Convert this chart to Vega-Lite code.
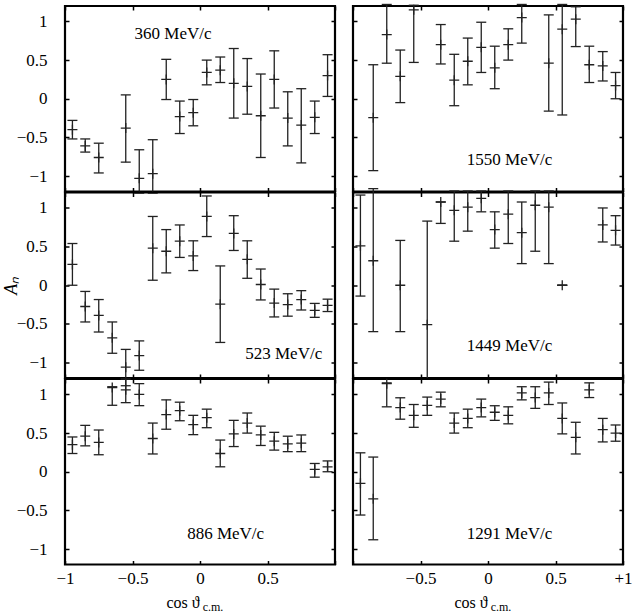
{
  "$schema": "https://vega.github.io/schema/vega-lite/v6.json",
  "padding": {"left": 0, "top": 0, "right": 0, "bottom": 0},
  "background": "white",
  "datasets": {
    "pts": [
      {"p": "360", "x": -0.945, "y": -0.40, "lo": -0.52, "hi": -0.28},
      {"p": "360", "x": -0.85, "y": -0.61, "lo": -0.69, "hi": -0.52},
      {"p": "360", "x": -0.75, "y": -0.76, "lo": -0.96, "hi": -0.575},
      {"p": "360", "x": -0.55, "y": -0.38, "lo": -0.82, "hi": 0.05},
      {"p": "360", "x": -0.45, "y": -1.03, "lo": -1.22, "hi": -0.66},
      {"p": "360", "x": -0.35, "y": -0.97, "lo": -1.22, "hi": -0.53},
      {"p": "360", "x": -0.25, "y": 0.25, "lo": -0.01, "hi": 0.51},
      {"p": "360", "x": -0.15, "y": -0.23, "lo": -0.45, "hi": -0.03},
      {"p": "360", "x": -0.05, "y": -0.18, "lo": -0.35, "hi": -0.01},
      {"p": "360", "x": 0.05, "y": 0.34, "lo": 0.18, "hi": 0.50},
      {"p": "360", "x": 0.15, "y": 0.37, "lo": 0.21, "hi": 0.54},
      {"p": "360", "x": 0.25, "y": 0.20, "lo": -0.25, "hi": 0.65},
      {"p": "360", "x": 0.35, "y": 0.16, "lo": -0.20, "hi": 0.52},
      {"p": "360", "x": 0.45, "y": -0.22, "lo": -0.76, "hi": 0.32},
      {"p": "360", "x": 0.55, "y": 0.25, "lo": -0.12, "hi": 0.62},
      {"p": "360", "x": 0.65, "y": -0.25, "lo": -0.61, "hi": 0.09},
      {"p": "360", "x": 0.75, "y": -0.34, "lo": -0.83, "hi": 0.13},
      {"p": "360", "x": 0.85, "y": -0.24, "lo": -0.45, "hi": -0.03},
      {"p": "360", "x": 0.945, "y": 0.30, "lo": 0.03, "hi": 0.57},

      {"p": "1550", "x": -0.85, "y": -0.245, "lo": -0.93, "hi": 0.44},
      {"p": "1550", "x": -0.75, "y": 0.83, "lo": 0.46, "hi": 1.22},
      {"p": "1550", "x": -0.65, "y": 0.29, "lo": -0.05, "hi": 0.63},
      {"p": "1550", "x": -0.55, "y": 1.15, "lo": 0.47, "hi": 1.21},
      {"p": "1550", "x": -0.35, "y": 0.70, "lo": 0.45, "hi": 0.96},
      {"p": "1550", "x": -0.25, "y": 0.24, "lo": -0.09, "hi": 0.575},
      {"p": "1550", "x": -0.15, "y": 0.485, "lo": 0.18, "hi": 0.785},
      {"p": "1550", "x": -0.05, "y": 0.665, "lo": 0.34, "hi": 0.99},
      {"p": "1550", "x": 0.05, "y": 0.40, "lo": 0.13, "hi": 0.68},
      {"p": "1550", "x": 0.15, "y": 0.70, "lo": 0.50, "hi": 0.905},
      {"p": "1550", "x": 0.25, "y": 1.05, "lo": 0.72, "hi": 1.22},
      {"p": "1550", "x": 0.45, "y": 0.46, "lo": -0.16, "hi": 1.085},
      {"p": "1550", "x": 0.55, "y": 0.90, "lo": -0.21, "hi": 1.22},
      {"p": "1550", "x": 0.65, "y": 1.03, "lo": 0.675, "hi": 1.19},
      {"p": "1550", "x": 0.75, "y": 0.44, "lo": 0.21, "hi": 0.68},
      {"p": "1550", "x": 0.85, "y": 0.425, "lo": 0.23, "hi": 0.61},
      {"p": "1550", "x": 0.945, "y": 0.17, "lo": 0.0, "hi": 0.34},

      {"p": "523", "x": -0.945, "y": 0.27, "lo": 0.0, "hi": 0.54},
      {"p": "523", "x": -0.85, "y": -0.275, "lo": -0.475, "hi": -0.08},
      {"p": "523", "x": -0.75, "y": -0.39, "lo": -0.605, "hi": -0.185},
      {"p": "523", "x": -0.65, "y": -0.68, "lo": -0.88, "hi": -0.475},
      {"p": "523", "x": -0.55, "y": -1.06, "lo": -1.30, "hi": -0.83},
      {"p": "523", "x": -0.45, "y": -0.91, "lo": -1.10, "hi": -0.72},
      {"p": "523", "x": -0.35, "y": 0.48, "lo": 0.065, "hi": 0.89},
      {"p": "523", "x": -0.25, "y": 0.44, "lo": 0.16, "hi": 0.72},
      {"p": "523", "x": -0.15, "y": 0.57, "lo": 0.36, "hi": 0.78},
      {"p": "523", "x": -0.05, "y": 0.38, "lo": 0.19, "hi": 0.575},
      {"p": "523", "x": 0.05, "y": 0.89, "lo": 0.63, "hi": 1.155},
      {"p": "523", "x": 0.15, "y": -0.245, "lo": -0.74, "hi": 0.25},
      {"p": "523", "x": 0.25, "y": 0.67, "lo": 0.45, "hi": 0.90},
      {"p": "523", "x": 0.35, "y": 0.335, "lo": 0.09, "hi": 0.575},
      {"p": "523", "x": 0.45, "y": 0.01, "lo": -0.19, "hi": 0.21},
      {"p": "523", "x": 0.55, "y": -0.23, "lo": -0.41, "hi": -0.05},
      {"p": "523", "x": 0.65, "y": -0.25, "lo": -0.40, "hi": -0.11},
      {"p": "523", "x": 0.75, "y": -0.185, "lo": -0.32, "hi": -0.07},
      {"p": "523", "x": 0.85, "y": -0.325, "lo": -0.415, "hi": -0.235},
      {"p": "523", "x": 0.945, "y": -0.26, "lo": -0.34, "hi": -0.18},

      {"p": "1449", "x": -0.945, "y": 0.51, "lo": -0.14, "hi": 1.167},
      {"p": "1449", "x": -0.85, "y": 0.317, "lo": -0.60, "hi": 1.25},
      {"p": "1449", "x": -0.65, "y": 0.0, "lo": -0.60, "hi": 0.58},
      {"p": "1449", "x": -0.45, "y": -0.51, "lo": -1.21, "hi": 0.83},
      {"p": "1449", "x": -0.35, "y": 1.077, "lo": 0.80, "hi": 1.077},
      {"p": "1449", "x": -0.25, "y": 0.97, "lo": 0.57, "hi": 1.22},
      {"p": "1449", "x": -0.15, "y": 1.01, "lo": 0.70, "hi": 1.22},
      {"p": "1449", "x": -0.05, "y": 1.125, "lo": 0.95, "hi": 1.22},
      {"p": "1449", "x": 0.05, "y": 0.72, "lo": 0.48, "hi": 0.95},
      {"p": "1449", "x": 0.15, "y": 0.92, "lo": 0.54, "hi": 1.22},
      {"p": "1449", "x": 0.25, "y": 0.68, "lo": 0.28, "hi": 1.077},
      {"p": "1449", "x": 0.35, "y": 1.035, "lo": 0.44, "hi": 1.22},
      {"p": "1449", "x": 0.45, "y": 1.01, "lo": 0.28, "hi": 1.22},
      {"p": "1449", "x": 0.55, "y": 0.0, "lo": 0.0, "hi": 0.0},
      {"p": "1449", "x": 0.85, "y": 0.78, "lo": 0.56, "hi": 1.0},
      {"p": "1449", "x": 0.945, "y": 0.71, "lo": 0.52, "hi": 0.90},

      {"p": "886", "x": -0.945, "y": 0.35, "lo": 0.236, "hi": 0.45},
      {"p": "886", "x": -0.85, "y": 0.46, "lo": 0.335, "hi": 0.60},
      {"p": "886", "x": -0.75, "y": 0.38, "lo": 0.22, "hi": 0.54},
      {"p": "886", "x": -0.65, "y": 1.09, "lo": 0.86, "hi": 1.10},
      {"p": "886", "x": -0.55, "y": 1.06, "lo": 0.894, "hi": 1.2},
      {"p": "886", "x": -0.45, "y": 1.0, "lo": 0.855, "hi": 1.14},
      {"p": "886", "x": -0.35, "y": 0.43, "lo": 0.23, "hi": 0.63},
      {"p": "886", "x": -0.25, "y": 0.74, "lo": 0.55, "hi": 0.93},
      {"p": "886", "x": -0.15, "y": 0.79, "lo": 0.66, "hi": 0.90},
      {"p": "886", "x": -0.05, "y": 0.61, "lo": 0.48, "hi": 0.73},
      {"p": "886", "x": 0.05, "y": 0.70, "lo": 0.57, "hi": 0.81},
      {"p": "886", "x": 0.15, "y": 0.236, "lo": 0.064, "hi": 0.41},
      {"p": "886", "x": 0.25, "y": 0.49, "lo": 0.326, "hi": 0.665},
      {"p": "886", "x": 0.35, "y": 0.63, "lo": 0.50, "hi": 0.76},
      {"p": "886", "x": 0.45, "y": 0.476, "lo": 0.34, "hi": 0.59},
      {"p": "886", "x": 0.55, "y": 0.395, "lo": 0.28, "hi": 0.51},
      {"p": "886", "x": 0.65, "y": 0.36, "lo": 0.26, "hi": 0.46},
      {"p": "886", "x": 0.75, "y": 0.37, "lo": 0.26, "hi": 0.476},
      {"p": "886", "x": 0.85, "y": 0.03, "lo": -0.07, "hi": 0.107},
      {"p": "886", "x": 0.945, "y": 0.064, "lo": 0.0, "hi": 0.14},

      {"p": "1291", "x": -0.945, "y": -0.15, "lo": -0.56, "hi": 0.245},
      {"p": "1291", "x": -0.85, "y": -0.35, "lo": -0.88, "hi": 0.19},
      {"p": "1291", "x": -0.75, "y": 1.14, "lo": 0.84, "hi": 1.15},
      {"p": "1291", "x": -0.65, "y": 0.83, "lo": 0.68, "hi": 0.957},
      {"p": "1291", "x": -0.55, "y": 0.73, "lo": 0.575, "hi": 0.87},
      {"p": "1291", "x": -0.45, "y": 0.86, "lo": 0.73, "hi": 0.966},
      {"p": "1291", "x": -0.35, "y": 0.94, "lo": 0.84, "hi": 1.03},
      {"p": "1291", "x": -0.25, "y": 0.63, "lo": 0.50, "hi": 0.76},
      {"p": "1291", "x": -0.15, "y": 0.69, "lo": 0.57, "hi": 0.81},
      {"p": "1291", "x": -0.05, "y": 0.83, "lo": 0.71, "hi": 0.94},
      {"p": "1291", "x": 0.05, "y": 0.77, "lo": 0.665, "hi": 0.854},
      {"p": "1291", "x": 0.15, "y": 0.73, "lo": 0.62, "hi": 0.84},
      {"p": "1291", "x": 0.25, "y": 1.02, "lo": 0.93, "hi": 1.10},
      {"p": "1291", "x": 0.35, "y": 0.96, "lo": 0.82, "hi": 1.10},
      {"p": "1291", "x": 0.45, "y": 1.02, "lo": 0.87, "hi": 1.16},
      {"p": "1291", "x": 0.55, "y": 0.69, "lo": 0.49, "hi": 0.89},
      {"p": "1291", "x": 0.65, "y": 0.446, "lo": 0.23, "hi": 0.64},
      {"p": "1291", "x": 0.75, "y": 1.06, "lo": 0.96, "hi": 1.15},
      {"p": "1291", "x": 0.85, "y": 0.545, "lo": 0.386, "hi": 0.69},
      {"p": "1291", "x": 0.945, "y": 0.50, "lo": 0.395, "hi": 0.605}
    ],
    "labels": [
      {"p": "360", "t": "360 MeV/c"},
      {"p": "1550", "t": "1550 MeV/c"},
      {"p": "523", "t": "523 MeV/c"},
      {"p": "1449", "t": "1449 MeV/c"},
      {"p": "886", "t": "886 MeV/c"},
      {"p": "1291", "t": "1291 MeV/c"}
    ]
  },
  "columns": 2,
  "spacing": {"row": 0.5, "column": 18},
  "bounds": "flush",
  "concat": [
    {
      "width": 270, "height": 185.5,
      "data": {"name": "pts"},
      "transform": [{"filter": "datum.p == '360'"}],
      "resolve": {"axis": {"x": "independent", "y": "independent"}},
      "layer": [
        {"mark": {"type": "rule", "color": "#222", "strokeWidth": 1.3},
         "encoding": {
           "x": {"field": "x", "type": "quantitative", "scale": {"domain": [-1, 1], "nice": false, "zero": false}, "axis": {"orient": "bottom", "values": [-1, -0.5, 0, 0.5, 1], "labels": false, "title": null}},
           "y": {"field": "lo", "type": "quantitative", "scale": {"domain": [-1.2, 1.2], "nice": false, "zero": false}, "axis": {"orient": "left", "values": [-1, -0.5, 0, 0.5, 1], "format": "~g", "title": null}},
           "y2": {"field": "hi"}}},
        {"transform": [{"fold": ["lo", "hi"], "as": ["k", "v"]}],
         "mark": {"type": "point", "shape": "M-1,0H1", "size": 100, "filled": false, "stroke": "#222", "strokeWidth": 1.3, "opacity": 1},
         "encoding": {
           "x": {"field": "x", "type": "quantitative", "axis": {"orient": "top", "values": [-1, -0.5, 0, 0.5, 1], "labels": false, "title": null}},
           "y": {"field": "v", "type": "quantitative", "axis": {"orient": "right", "values": [-1, -0.5, 0, 0.5, 1], "labels": false, "title": null}}}},
        {"mark": {"type": "point", "shape": "M-1,0H1M0,-1V1", "size": 100, "filled": false, "stroke": "#222", "strokeWidth": 1.3, "opacity": 1},
         "encoding": {"x": {"field": "x", "type": "quantitative", "axis": null}, "y": {"field": "y", "type": "quantitative", "axis": null}}},
        {"data": {"name": "labels"}, "transform": [{"filter": "datum.p == '360'"}],
         "mark": {"type": "text", "fontSize": 17, "color": "black"},
         "encoding": {"x": {"datum": -0.2, "axis": null}, "y": {"datum": 0.84, "axis": null}, "text": {"field": "t"}}}
      ]
    },
    {
      "width": 270, "height": 185.5,
      "data": {"name": "pts"},
      "transform": [{"filter": "datum.p == '1550'"}],
      "resolve": {"axis": {"x": "independent", "y": "independent"}},
      "layer": [
        {"mark": {"type": "rule", "color": "#222", "strokeWidth": 1.3},
         "encoding": {
           "x": {"field": "x", "type": "quantitative", "scale": {"domain": [-1, 1], "nice": false, "zero": false}, "axis": {"orient": "bottom", "values": [-1, -0.5, 0, 0.5, 1], "labels": false, "title": null}},
           "y": {"field": "lo", "type": "quantitative", "scale": {"domain": [-1.2, 1.2], "nice": false, "zero": false}, "axis": {"orient": "left", "values": [-1, -0.5, 0, 0.5, 1], "labels": false, "title": null}},
           "y2": {"field": "hi"}}},
        {"transform": [{"fold": ["lo", "hi"], "as": ["k", "v"]}],
         "mark": {"type": "point", "shape": "M-1,0H1", "size": 100, "filled": false, "stroke": "#222", "strokeWidth": 1.3, "opacity": 1},
         "encoding": {
           "x": {"field": "x", "type": "quantitative", "axis": {"orient": "top", "values": [-1, -0.5, 0, 0.5, 1], "labels": false, "title": null}},
           "y": {"field": "v", "type": "quantitative", "axis": {"orient": "right", "values": [-1, -0.5, 0, 0.5, 1], "labels": false, "title": null}}}},
        {"mark": {"type": "point", "shape": "M-1,0H1M0,-1V1", "size": 100, "filled": false, "stroke": "#222", "strokeWidth": 1.3, "opacity": 1},
         "encoding": {"x": {"field": "x", "type": "quantitative", "axis": null}, "y": {"field": "y", "type": "quantitative", "axis": null}}},
        {"data": {"name": "labels"}, "transform": [{"filter": "datum.p == '1550'"}],
         "mark": {"type": "text", "fontSize": 17, "color": "black"},
         "encoding": {"x": {"datum": 0.16, "axis": null}, "y": {"datum": -0.795, "axis": null}, "text": {"field": "t"}}}
      ]
    },
    {
      "width": 270, "height": 185.5,
      "data": {"name": "pts"},
      "transform": [{"filter": "datum.p == '523'"}],
      "resolve": {"axis": {"x": "independent", "y": "independent"}},
      "layer": [
        {"mark": {"type": "rule", "color": "#222", "strokeWidth": 1.3},
         "encoding": {
           "x": {"field": "x", "type": "quantitative", "scale": {"domain": [-1, 1], "nice": false, "zero": false}, "axis": {"orient": "bottom", "values": [-1, -0.5, 0, 0.5, 1], "labels": false, "title": null}},
           "y": {"field": "lo", "type": "quantitative", "scale": {"domain": [-1.2, 1.2], "nice": false, "zero": false}, "axis": {"orient": "left", "values": [-1, -0.5, 0, 0.5, 1], "format": "~g", "title": "Aₙ", "titleFontStyle": "italic", "titleFontSize": 18, "titleX": -54, "titleY": 92.75, "titleBaseline": "middle", "titleAlign": "center", "titleAngle": -90}},
           "y2": {"field": "hi"}}},
        {"transform": [{"fold": ["lo", "hi"], "as": ["k", "v"]}],
         "mark": {"type": "point", "shape": "M-1,0H1", "size": 100, "filled": false, "stroke": "#222", "strokeWidth": 1.3, "opacity": 1},
         "encoding": {
           "x": {"field": "x", "type": "quantitative", "axis": {"orient": "top", "values": [-1, -0.5, 0, 0.5, 1], "labels": false, "title": null}},
           "y": {"field": "v", "type": "quantitative", "axis": {"orient": "right", "values": [-1, -0.5, 0, 0.5, 1], "labels": false, "title": null}}}},
        {"mark": {"type": "point", "shape": "M-1,0H1M0,-1V1", "size": 100, "filled": false, "stroke": "#222", "strokeWidth": 1.3, "opacity": 1},
         "encoding": {"x": {"field": "x", "type": "quantitative", "axis": null}, "y": {"field": "y", "type": "quantitative", "axis": null}}},
        {"data": {"name": "labels"}, "transform": [{"filter": "datum.p == '523'"}],
         "mark": {"type": "text", "fontSize": 17, "color": "black"},
         "encoding": {"x": {"datum": 0.62, "axis": null}, "y": {"datum": -0.885, "axis": null}, "text": {"field": "t"}}}
      ]
    },
    {
      "width": 270, "height": 185.5,
      "data": {"name": "pts"},
      "transform": [{"filter": "datum.p == '1449'"}],
      "resolve": {"axis": {"x": "independent", "y": "independent"}},
      "layer": [
        {"mark": {"type": "rule", "color": "#222", "strokeWidth": 1.3},
         "encoding": {
           "x": {"field": "x", "type": "quantitative", "scale": {"domain": [-1, 1], "nice": false, "zero": false}, "axis": {"orient": "bottom", "values": [-1, -0.5, 0, 0.5, 1], "labels": false, "title": null}},
           "y": {"field": "lo", "type": "quantitative", "scale": {"domain": [-1.2, 1.2], "nice": false, "zero": false}, "axis": {"orient": "left", "values": [-1, -0.5, 0, 0.5, 1], "labels": false, "title": null}},
           "y2": {"field": "hi"}}},
        {"transform": [{"fold": ["lo", "hi"], "as": ["k", "v"]}],
         "mark": {"type": "point", "shape": "M-1,0H1", "size": 100, "filled": false, "stroke": "#222", "strokeWidth": 1.3, "opacity": 1},
         "encoding": {
           "x": {"field": "x", "type": "quantitative", "axis": {"orient": "top", "values": [-1, -0.5, 0, 0.5, 1], "labels": false, "title": null}},
           "y": {"field": "v", "type": "quantitative", "axis": {"orient": "right", "values": [-1, -0.5, 0, 0.5, 1], "labels": false, "title": null}}}},
        {"mark": {"type": "point", "shape": "M-1,0H1M0,-1V1", "size": 100, "filled": false, "stroke": "#222", "strokeWidth": 1.3, "opacity": 1},
         "encoding": {"x": {"field": "x", "type": "quantitative", "axis": null}, "y": {"field": "y", "type": "quantitative", "axis": null}}},
        {"data": {"name": "labels"}, "transform": [{"filter": "datum.p == '1449'"}],
         "mark": {"type": "text", "fontSize": 17, "color": "black"},
         "encoding": {"x": {"datum": 0.16, "axis": null}, "y": {"datum": -0.79, "axis": null}, "text": {"field": "t"}}}
      ]
    },
    {
      "width": 270, "height": 185.5,
      "data": {"name": "pts"},
      "transform": [{"filter": "datum.p == '886'"}],
      "resolve": {"axis": {"x": "independent", "y": "independent"}},
      "layer": [
        {"mark": {"type": "rule", "color": "#222", "strokeWidth": 1.3},
         "encoding": {
           "x": {"field": "x", "type": "quantitative", "scale": {"domain": [-1, 1], "nice": false, "zero": false}, "axis": {"orient": "bottom", "values": [-1, -0.5, 0, 0.5, 1], "format": "~g", "labelExpr": "datum.value == 1 ? '' : datum.label", "labelPadding": 10, "title": "cos ϑ", "titleX": 101, "titleY": 43, "titleAlign": "left", "titleBaseline": "alphabetic"}},
           "y": {"field": "lo", "type": "quantitative", "scale": {"domain": [-1.2, 1.2], "nice": false, "zero": false}, "axis": {"orient": "left", "values": [-1, -0.5, 0, 0.5, 1], "format": "~g", "title": null}},
           "y2": {"field": "hi"}}},
        {"transform": [{"fold": ["lo", "hi"], "as": ["k", "v"]}],
         "mark": {"type": "point", "shape": "M-1,0H1", "size": 100, "filled": false, "stroke": "#222", "strokeWidth": 1.3, "opacity": 1},
         "encoding": {
           "x": {"field": "x", "type": "quantitative", "axis": {"orient": "top", "values": [-1, -0.5, 0, 0.5, 1], "labels": false, "title": null}},
           "y": {"field": "v", "type": "quantitative", "axis": {"orient": "right", "values": [-1, -0.5, 0, 0.5, 1], "labels": false, "title": null}}}},
        {"mark": {"type": "point", "shape": "M-1,0H1M0,-1V1", "size": 100, "filled": false, "stroke": "#222", "strokeWidth": 1.3, "opacity": 1},
         "encoding": {"x": {"field": "x", "type": "quantitative", "axis": null}, "y": {"field": "y", "type": "quantitative", "axis": null}}},
        {"data": {"name": "labels"}, "transform": [{"filter": "datum.p == '886'"}],
         "mark": {"type": "text", "fontSize": 17, "color": "black"},
         "encoding": {"x": {"datum": 0.19, "axis": null}, "y": {"datum": -0.80, "axis": null}, "text": {"field": "t"}}},
        {"data": {"name": "labels"}, "transform": [{"filter": "datum.p == '886'"}],
         "mark": {"type": "text", "fontSize": 12, "align": "left", "baseline": "alphabetic", "color": "black"},
         "encoding": {"x": {"datum": 0.02, "axis": null}, "y": {"datum": -1.80, "axis": null}, "text": {"value": "c.m."}}}
      ]
    },
    {
      "width": 270, "height": 185.5,
      "data": {"name": "pts"},
      "transform": [{"filter": "datum.p == '1291'"}],
      "resolve": {"axis": {"x": "independent", "y": "independent"}},
      "layer": [
        {"mark": {"type": "rule", "color": "#222", "strokeWidth": 1.3},
         "encoding": {
           "x": {"field": "x", "type": "quantitative", "scale": {"domain": [-1, 1], "nice": false, "zero": false}, "axis": {"orient": "bottom", "values": [-1, -0.5, 0, 0.5, 1], "format": "~g", "labelExpr": "datum.value == -1 ? '' : datum.value == 1 ? '+1' : datum.label", "labelPadding": 10, "title": "cos ϑ", "titleX": 101, "titleY": 43, "titleAlign": "left", "titleBaseline": "alphabetic"}},
           "y": {"field": "lo", "type": "quantitative", "scale": {"domain": [-1.2, 1.2], "nice": false, "zero": false}, "axis": {"orient": "left", "values": [-1, -0.5, 0, 0.5, 1], "labels": false, "title": null}},
           "y2": {"field": "hi"}}},
        {"transform": [{"fold": ["lo", "hi"], "as": ["k", "v"]}],
         "mark": {"type": "point", "shape": "M-1,0H1", "size": 100, "filled": false, "stroke": "#222", "strokeWidth": 1.3, "opacity": 1},
         "encoding": {
           "x": {"field": "x", "type": "quantitative", "axis": {"orient": "top", "values": [-1, -0.5, 0, 0.5, 1], "labels": false, "title": null}},
           "y": {"field": "v", "type": "quantitative", "axis": {"orient": "right", "values": [-1, -0.5, 0, 0.5, 1], "labels": false, "title": null}}}},
        {"mark": {"type": "point", "shape": "M-1,0H1M0,-1V1", "size": 100, "filled": false, "stroke": "#222", "strokeWidth": 1.3, "opacity": 1},
         "encoding": {"x": {"field": "x", "type": "quantitative", "axis": null}, "y": {"field": "y", "type": "quantitative", "axis": null}}},
        {"data": {"name": "labels"}, "transform": [{"filter": "datum.p == '1291'"}],
         "mark": {"type": "text", "fontSize": 17, "color": "black"},
         "encoding": {"x": {"datum": 0.16, "axis": null}, "y": {"datum": -0.80, "axis": null}, "text": {"field": "t"}}},
        {"data": {"name": "labels"}, "transform": [{"filter": "datum.p == '1291'"}],
         "mark": {"type": "text", "fontSize": 12, "align": "left", "baseline": "alphabetic", "color": "black"},
         "encoding": {"x": {"datum": 0.02, "axis": null}, "y": {"datum": -1.80, "axis": null}, "text": {"value": "c.m."}}}
      ]
    }
  ],
  "config": {
    "font": "Liberation Serif",
    "view": {"stroke": "black", "strokeWidth": 2.2},
    "text": {"font": "Liberation Serif"},
    "axis": {
      "labelFont": "Liberation Serif", "labelFontSize": 17, "labelColor": "black", "labelFlush": false, "labelPadding": 22,
      "tickColor": "black", "tickWidth": 1.5, "tickSize": -4,
      "domain": false, "grid": false,
      "titleFont": "Liberation Serif", "titleFontWeight": "normal", "titleColor": "black", "titleFontSize": 16
    }
  }
}
